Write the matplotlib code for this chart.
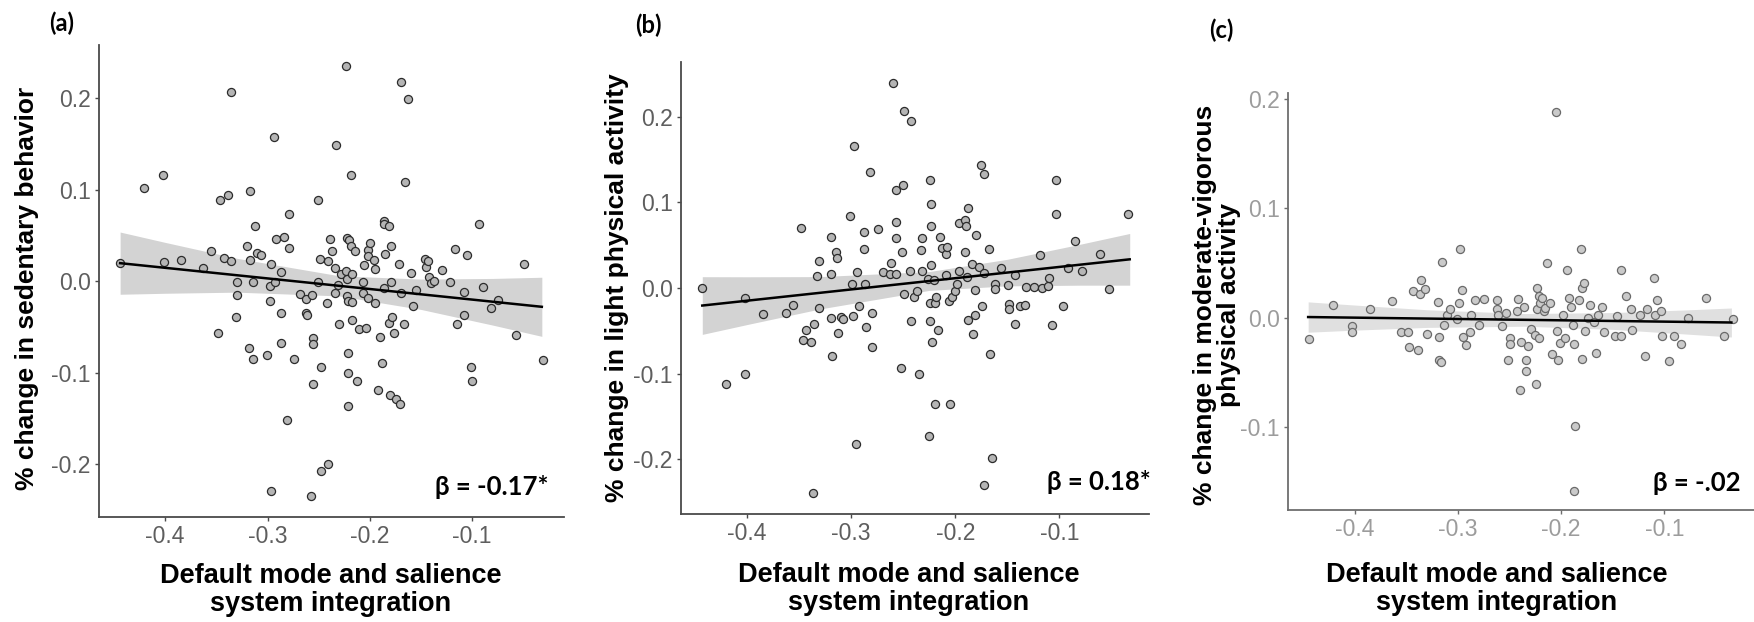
import numpy as np
import matplotlib.pyplot as plt

plt.rcParams['axes.unicode_minus'] = False
plt.rcParams['font.family'] = ['Liberation Sans', 'DejaVu Sans']

W, H = 1754, 622

# ---- (a) sedentary behavior ----
a_x = [-0.444, -0.4205, -0.402, -0.4015, -0.385, -0.3635, -0.355, -0.348, -0.346, -0.3385,
       -0.3355, -0.343, -0.336, -0.330, -0.3295, -0.331, -0.320, -0.3175, -0.317, -0.318,
       -0.314, -0.314, -0.3125, -0.3105, -0.306, -0.3005, -0.297, -0.298, -0.2975, -0.294,
       -0.293, -0.2915, -0.287, -0.287, -0.2865, -0.284, -0.281, -0.2795, -0.279, -0.274,
       -0.268, -0.262, -0.262, -0.261, -0.2565, -0.2555, -0.2555, -0.2555, -0.2575, -0.251,
       -0.2505, -0.249, -0.248, -0.2475, -0.241, -0.242, -0.2405, -0.2385, -0.2375, -0.234,
       -0.233, -0.234, -0.231, -0.2305, -0.2285, -0.2235, -0.222, -0.2205, -0.223, -0.222,
       -0.222, -0.2215, -0.221, -0.2215, -0.2215, -0.2185, -0.218, -0.2175, -0.2175, -0.217,
       -0.2145, -0.2125, -0.2105, -0.2065, -0.2065, -0.2055, -0.2035, -0.202, -0.200, -0.2015,
       -0.202, -0.1955, -0.195, -0.195, -0.192, -0.190, -0.1885, -0.1865, -0.186, -0.1865,
       -0.185, -0.181, -0.181, -0.1795, -0.1795, -0.180, -0.178, -0.176, -0.174, -0.172,
       -0.1705, -0.170, -0.170, -0.1665, -0.1655, -0.163, -0.1595, -0.158, -0.155, -0.146,
       -0.1455, -0.142, -0.140, -0.1375, -0.130, -0.1215, -0.117, -0.1145, -0.108, -0.108,
       -0.105, -0.101, -0.1005, -0.0935, -0.089, -0.082, -0.0745, -0.057, -0.0495, -0.031,
       -0.2965, -0.143]
a_y = [0.020, 0.102, 0.116, 0.021, 0.023, 0.015, 0.033, -0.056, 0.089, 0.094,
       0.207, 0.026, 0.022, -0.001, -0.015, -0.039, 0.039, 0.023, 0.099, -0.073,
       -0.001, -0.085, 0.061, 0.031, 0.029, -0.080, 0.0195, -0.005, -0.021, 0.158,
       -0.001, 0.046, -0.034, -0.067, 0.010, 0.049, -0.151, 0.074, 0.037, -0.085,
       -0.014, -0.019, -0.035, -0.037, -0.015, -0.062, -0.068, -0.112, -0.234, 0.089,
       -0.001, 0.025, -0.094, -0.207, -0.199, -0.024, 0.022, 0.046, 0.033, 0.015,
       0.149, -0.013, -0.004, -0.046, 0.008, 0.235, 0.047, 0.045, 0.011, 0.003,
       -0.016, -0.021, -0.078, -0.100, -0.136, 0.039, 0.116, 0.008, -0.022, -0.042,
       0.033, -0.109, -0.052, -0.001, -0.013, 0.018, -0.051, 0.034, 0.042, 0.028,
       -0.018, 0.023, 0.014, -0.023, -0.119, -0.061, -0.089, 0.066, 0.063, -0.007,
       0.030, 0.061, -0.045, -0.001, 0.039, -0.124, -0.039, -0.056, -0.129, 0.0195,
       -0.134, 0.218, -0.013, -0.047, 0.109, 0.199, 0.0095, -0.027, -0.0095, 0.025,
       0.016, 0.005, -0.002, 0.001, 0.012, -0.001, 0.035, -0.047, -0.012, -0.037,
       0.029, -0.093, -0.109, 0.063, -0.006, -0.029, -0.020, -0.0585, 0.019, -0.086,
       -0.229, 0.022]
a_band_x = [-0.444, -0.40, -0.33, -0.23, -0.15, -0.08, -0.032]
a_band_hi = [0.054, 0.0427, 0.0253, 0.0062, 0.0026, 0.0033, 0.0046]
a_band_lo = [-0.014, -0.0129, -0.0117, -0.0158, -0.0306, -0.0477, -0.060]
a_line_x = [-0.444, -0.032]
a_line_y = [0.020, -0.0277]

# ---- (b) light physical activity ----
b_x = [-0.443, -0.420, -0.402, -0.402, -0.385, -0.363, -0.356, -0.348, -0.346, -0.343,
       -0.339, -0.336, -0.3365, -0.3325, -0.331, -0.331, -0.3195, -0.319, -0.319, -0.3185,
       -0.315, -0.314, -0.313, -0.310, -0.308, -0.3015, -0.299, -0.298, -0.2975, -0.2955,
       -0.294, -0.292, -0.288, -0.288, -0.287, -0.286, -0.282, -0.280, -0.280, -0.2745,
       -0.2695, -0.262, -0.263, -0.2595, -0.257, -0.257, -0.2565, -0.257, -0.252, -0.2515,
       -0.250, -0.2495, -0.2495, -0.243, -0.2425, -0.2425, -0.240, -0.237, -0.235, -0.233,
       -0.2315, -0.2315, -0.226, -0.2245, -0.2245, -0.224, -0.223, -0.223, -0.2235, -0.2225,
       -0.2255, -0.2205, -0.219, -0.2185, -0.219, -0.2165, -0.2145, -0.2125, -0.209, -0.209,
       -0.2075, -0.206, -0.205, -0.203, -0.2005, -0.1985, -0.1965, -0.196, -0.191, -0.1895,
       -0.191, -0.188, -0.1885, -0.188, -0.184, -0.183, -0.181, -0.180, -0.181, -0.1775,
       -0.1755, -0.174, -0.1725, -0.1725, -0.1725, -0.168, -0.167, -0.165, -0.162, -0.162,
       -0.1565, -0.149, -0.148, -0.1485, -0.143, -0.143, -0.1375, -0.133, -0.1325, -0.124,
       -0.1185, -0.1165, -0.111, -0.110, -0.107, -0.1035, -0.1035, -0.0965, -0.092, -0.0849,
       -0.0778, -0.0605, -0.0524, -0.0343]
b_y = [0.000, -0.112, -0.101, -0.012, -0.030, -0.029, -0.020, 0.070, -0.061, -0.049,
       -0.063, -0.042, -0.240, 0.0135, 0.031, -0.023, -0.035, 0.060, 0.016, -0.080,
       0.042, 0.035, -0.053, -0.034, -0.036, 0.084, 0.005, -0.033, 0.166, -0.182,
       0.019, -0.0215, 0.065, 0.046, 0.005, -0.045, 0.135, -0.029, -0.069, 0.069,
       0.019, 0.029, 0.016, 0.240, 0.016, 0.077, 0.058, 0.114, -0.093, 0.0415,
       0.120, 0.207, -0.0065, 0.0195, 0.195, -0.039, -0.011, -0.004, -0.100, 0.044,
       0.0195, 0.058, 0.010, 0.126, -0.018, -0.039, 0.098, 0.072, 0.0265, -0.063,
       -0.173, 0.009, -0.018, -0.011, -0.136, -0.0485, 0.060, 0.047, 0.040, 0.0155,
       0.048, -0.015, -0.136, -0.011, -0.003, 0.005, 0.0195, 0.076, 0.080, 0.072,
       0.042, 0.093, 0.0125, -0.037, 0.0285, -0.054, -0.002, 0.0615, -0.032, 0.024,
       0.144, -0.0205, 0.133, 0.017, -0.230, 0.045, -0.077, -0.198, 0.005, -0.001,
       0.023, 0.003, -0.019, -0.024, 0.015, -0.042, -0.0205, -0.0195, 0.001, 0.001,
       0.039, 0.000, 0.002, 0.012, -0.043, 0.1265, 0.087, -0.0215, 0.023, 0.055,
       0.0195, 0.040, -0.001, 0.087]
b_band_x = [-0.443, -0.40, -0.33, -0.225, -0.15, -0.08, -0.0324]
b_band_hi = [0.0132, 0.0131, 0.0133, 0.0192, 0.0335, 0.0511, 0.0637]
b_band_lo = [-0.0542, -0.0427, -0.0245, -0.0028, 0.0025, 0.0033, 0.0033]
b_line_x = [-0.443, -0.0324]
b_line_y = [-0.0205, 0.0335]

# ---- (c) moderate-vigorous physical activity ----
c_x = [-0.444, -0.4205, -0.4025, -0.4025, -0.3855, -0.3635, -0.3555, -0.348, -0.347, -0.343,
       -0.339, -0.336, -0.337, -0.332, -0.330, -0.319, -0.3185, -0.318, -0.316, -0.315,
       -0.3135, -0.3105, -0.3075, -0.301, -0.299, -0.2975, -0.2955, -0.295, -0.292, -0.288,
       -0.287, -0.283, -0.2795, -0.2745, -0.2625, -0.262, -0.2615, -0.257, -0.253, -0.2515,
       -0.2495, -0.2495, -0.242, -0.2425, -0.240, -0.239, -0.2355, -0.234, -0.234, -0.232,
       -0.229, -0.2255, -0.2245, -0.2235, -0.2235, -0.2215, -0.2215, -0.220, -0.218, -0.217,
       -0.2155, -0.2135, -0.2105, -0.209, -0.205, -0.2035, -0.2025, -0.2015, -0.1985, -0.196,
       -0.194, -0.192, -0.190, -0.1885, -0.1875, -0.1865, -0.1875, -0.183, -0.181, -0.180,
       -0.180, -0.178, -0.1765, -0.174, -0.1715, -0.1685, -0.1665, -0.1645, -0.160, -0.158,
       -0.148, -0.146, -0.1417, -0.1417, -0.1375, -0.1325, -0.1314, -0.1232, -0.1185, -0.1166,
       -0.110, -0.1092, -0.1066, -0.103, -0.1026, -0.0956, -0.0908, -0.0834, -0.0768, -0.0594,
       -0.0417, -0.0336]
c_y = [-0.020, 0.0115, -0.0075, -0.013, 0.008, 0.0155, -0.013, -0.013, -0.027, 0.024,
       -0.030, 0.0345, 0.0215, 0.0265, -0.015, 0.014, -0.0175, -0.039, -0.041, 0.051,
       -0.007, 0.002, 0.008, -0.0015, 0.013, 0.063, 0.025, -0.0175, -0.025, -0.013,
       0.002, 0.016, -0.007, 0.017, 0.016, 0.0075, 0.002, -0.008, 0.0045, -0.039,
       -0.0185, -0.024, 0.0175, 0.006, -0.066, -0.022, 0.010, -0.039, -0.049, -0.026,
       -0.010, -0.016, -0.061, 0.027, 0.0075, 0.020, -0.019, 0.013, 0.018, 0.006,
       0.009, 0.050, 0.013, -0.033, 0.1885, -0.012, -0.039, -0.023, 0.002, -0.019,
       0.0435, 0.018, 0.010, -0.007, -0.024, -0.099, -0.159, 0.0165, 0.0625, 0.027,
       -0.038, 0.032, -0.012, 0.000, 0.012, -0.004, -0.032, 0.002, 0.010, -0.013,
       -0.0165, 0.0015, -0.0165, 0.0435, 0.020, 0.008, -0.011, 0.002, -0.035, 0.008,
       0.036, 0.002, 0.016, 0.0065, -0.017, -0.040, -0.0165, -0.024, 0.000, 0.018,
       -0.017, -0.0015]
c_band_x = [-0.445, -0.40, -0.33, -0.235, -0.15, -0.08, -0.035]
c_band_hi = [0.0144, 0.0115, 0.0072, 0.0037, 0.0046, 0.0070, 0.0088]
c_band_lo = [-0.0134, -0.0115, -0.0090, -0.0079, -0.0108, -0.0150, -0.0178]
c_line_x = [-0.445, -0.035]
c_line_y = [0.0005, -0.0045]

x_ticks = [-0.4, -0.3, -0.2, -0.1]
xlabel = "Default mode and salience\nsystem integration"


def draw_panel(box, xs, ys, band_x, band_lo, band_hi, line_x, line_y, yticks,
               ylabel, ylabel_pos, xlabel_pos, beta, beta_pos, face, edge,
               band_col, tick_col, spine_col):
    left, top, right, bottom = box
    ax = fig.add_axes([left / W, 1 - bottom / H, (right - left) / W, (bottom - top) / H])
    ax.fill_between(band_x, band_lo, band_hi, color=band_col, lw=0, zorder=1)
    ax.scatter(xs, ys, s=34, facecolor=face, edgecolor=edge, linewidths=0.9, zorder=2)
    ax.plot(line_x, line_y, color='black', lw=1.8, zorder=3)

    # ggplot style 5% expansion
    xr = max(xs) - min(xs)
    yr = max(ys) - min(ys)
    ax.set_xlim(min(xs) - 0.05 * xr, max(xs) + 0.05 * xr)
    ax.set_ylim(min(ys) - 0.05 * yr, max(ys) + 0.05 * yr)
    ax.set_xticks(x_ticks)
    ax.set_xticklabels(['%.1f' % t for t in x_ticks])
    ax.set_yticks(yticks)
    ax.set_yticklabels(['%.1f' % t for t in yticks])

    for s in ['top', 'right']:
        ax.spines[s].set_visible(False)
    for s in ['left', 'bottom']:
        ax.spines[s].set_color(spine_col)
        ax.spines[s].set_linewidth(1.3)
    ax.tick_params(length=3, width=1, color=spine_col, labelcolor=tick_col,
                   labelsize=16.5, pad=3)

    ax.set_xlabel(xlabel, fontsize=19.5, fontweight='bold', va='center', linespacing=1.1)
    ax.xaxis.set_label_coords(xlabel_pos[0] / W, 1 - xlabel_pos[1] / H,
                              transform=fig.transFigure)
    ax.set_ylabel(ylabel, fontsize=19, fontweight='bold', va='center', linespacing=1.05)
    ax.yaxis.set_label_coords(ylabel_pos[0] / W, 1 - ylabel_pos[1] / H,
                              transform=fig.transFigure)

    ax.text(beta_pos[0], beta_pos[1], beta, transform=ax.transAxes, ha='right',
            va='center', fontsize=18.5, fontweight='bold',
            family=['Lato', 'Open Sans', 'DejaVu Sans'])
    return ax


fig = plt.figure(figsize=(W / 100, H / 100), dpi=100)

draw_panel((99, 45, 564, 517), a_x, a_y, a_band_x, a_band_lo, a_band_hi, a_line_x, a_line_y,
           [-0.2, -0.1, 0.0, 0.1, 0.2], "% change in sedentary behavior", (27, 288), (331, 590),
           "β = -0.17*", (0.966, 0.064), '#b5b5b5', '#2b2b2b', '#d3d3d3', '#5e5e5e', '#4a4a4a')
draw_panel((681, 62, 1149, 514), b_x, b_y, b_band_x, b_band_lo, b_band_hi, b_line_x, b_line_y,
           [-0.2, -0.1, 0.0, 0.1, 0.2], "% change in light physical activity", (617, 288), (909, 589),
           "β = 0.18*", (1.004, 0.071), '#b5b5b5', '#2b2b2b', '#d3d3d3', '#5e5e5e', '#4a4a4a')
draw_panel((1288, 93, 1754, 510), c_x, c_y, c_band_x, c_band_lo, c_band_hi, c_line_x, c_line_y,
           [-0.1, 0.0, 0.1, 0.2], "% change in moderate-vigorous\nphysical activity", (1217, 305),
           (1497, 589), "β = -.02", (0.970, 0.065), '#cacaca', '#6a6a6a', '#e0e0e0', '#9c9c9c',
           '#6e6e6e')

for lab, px, py in [("(a)", 62, 23), ("(b)", 648, 25), ("(c)", 1221, 30)]:
    fig.text(px / W, 1 - py / H, lab, ha='center', va='center', fontsize=17,
             fontweight='bold', family=['Lato', 'Open Sans', 'DejaVu Sans'])

fig.savefig('out.png', dpi=100)
